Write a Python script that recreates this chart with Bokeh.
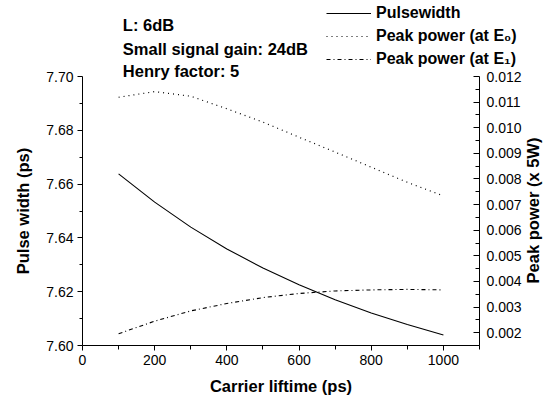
import math
from bokeh.plotting import figure
from bokeh.models import (Range1d, LinearAxis, FixedTicker, PrintfTickFormatter,
                          Legend, LegendItem, Label)
from bokeh.embed import file_html
from bokeh.resources import INLINE

# ---- data ----
carrier_lifetime = [100, 200, 300, 400, 500, 600, 700, 800, 900, 1000]
pulse_width = [7.6638, 7.6533, 7.6440, 7.6359, 7.6288, 7.6226, 7.6170, 7.6121, 7.6078, 7.6039]
peak_power_e0 = [0.01119, 0.01141, 0.01123, 0.01074, 0.01022, 0.00963, 0.00905, 0.00846, 0.00787, 0.00734]
peak_power_e1 = [0.00196, 0.00245, 0.00285, 0.00314, 0.00337, 0.00353, 0.00363, 0.00367, 0.00369, 0.00367]

x_ticks = [0, 200, 400, 600, 800, 1000]
x_minor = [100, 300, 500, 700, 900, 1100]
left_ticks = [7.60, 7.62, 7.64, 7.66, 7.68, 7.70]
left_minor = [7.61, 7.63, 7.65, 7.67, 7.69]
right_ticks = [0.002, 0.003, 0.004, 0.005, 0.006, 0.007, 0.008, 0.009, 0.010, 0.011, 0.012]
right_minor = [0.0015, 0.0025, 0.0035, 0.0045, 0.0055, 0.0065, 0.0075, 0.0085, 0.0095, 0.0105, 0.0115]

annotations = ["L: 6dB", "Small signal gain: 24dB", "Henry factor: 5"]
series_labels = ["Pulsewidth", "Peak power (at E\u2080)", "Peak power (at E\u2081)"]
right_axis_title = "Peak power (x 5W)"

FONT = "Liberation Sans"

# axis windows (data) and where they sit on the 552x400 canvas (pixels)
X_LO, X_HI = 0, 1100
LEFT_LO, LEFT_HI = 7.60, 7.70
RIGHT_LO, RIGHT_HI = 0.0015, 0.012
W, H = 552, 400
PX_L, PX_R, PX_T, PX_B = 82, 479, 76, 345

def extend(lo, hi, a, b, n, flip=False):
    # range covering the whole canvas when [lo,hi] spans pixels a..b of n
    per = (hi - lo) / (b - a)
    if flip:
        return lo - (n - b) * per, hi + a * per
    return lo - a * per, hi + (n - b) * per

xs, xe = extend(X_LO, X_HI, PX_L, PX_R, W)
ls, le = extend(LEFT_LO, LEFT_HI, PX_T, PX_B, H, flip=True)
rs, re_ = extend(RIGHT_LO, RIGHT_HI, PX_T, PX_B, H, flip=True)

p = figure(width=W, height=H, output_backend="svg", toolbar_location=None,
           x_range=Range1d(xs, xe), y_range=Range1d(ls, le),
           min_border=0, outline_line_color=None,
           background_fill_color="white", border_fill_color="white")
p.extra_y_ranges = {"power": Range1d(rs, re_)}
p.xgrid.visible = False
p.ygrid.visible = False

def style_axis(ax):
    ax.axis_line_color = "black"
    ax.major_tick_line_color = "black"
    ax.minor_tick_line_color = "black"
    ax.major_label_text_color = "black"
    ax.major_label_text_font = FONT
    ax.major_label_text_font_size = "14px"
    ax.axis_label_text_font = FONT
    ax.axis_label_text_font_size = "16.5px"
    ax.axis_label_text_font_style = "bold"
    ax.axis_label_text_color = "black"

xa = p.xaxis[0]
style_axis(xa)
xa.fixed_location = LEFT_LO
xa.bounds = (X_LO, X_HI)
xa.ticker = FixedTicker(ticks=x_ticks, minor_ticks=x_minor)
xa.axis_label = "Carrier liftime (ps)"
xa.major_tick_in = 0
xa.major_tick_out = 5
xa.minor_tick_in = 0
xa.minor_tick_out = 4
xa.major_label_standoff = 4
xa.axis_label_standoff = 9

ya = p.yaxis[0]
style_axis(ya)
ya.fixed_location = X_LO
ya.bounds = (LEFT_LO, LEFT_HI)
ya.ticker = FixedTicker(ticks=left_ticks, minor_ticks=left_minor)
ya.formatter = PrintfTickFormatter(format="%.2f")
ya.axis_label = "Pulse width (ps)"
ya.major_tick_in = 0
ya.major_tick_out = 5
ya.minor_tick_in = 0
ya.minor_tick_out = 3
ya.major_label_standoff = 4
ya.axis_label_standoff = 11

ra = LinearAxis(y_range_name="power")
style_axis(ra)
ra.fixed_location = X_HI
ra.bounds = (RIGHT_LO, RIGHT_HI)
ra.ticker = FixedTicker(ticks=right_ticks, minor_ticks=right_minor)
ra.formatter = PrintfTickFormatter(format="%.3f")
ra.major_tick_in = 6
ra.major_tick_out = 0
ra.minor_tick_in = 4
ra.minor_tick_out = 0
ra.major_label_standoff = 7
p.add_layout(ra, "right")

# right-axis title, reading bottom to top like the reference
p.add_layout(Label(x=1249.6, y=0.00677, y_range_name="power",
                   text=right_axis_title, angle=math.pi / 2, text_font=FONT,
                   text_font_size="16.5px", text_font_style="bold", text_color="black",
                   text_align="center", text_baseline="middle"))

r1 = p.line(carrier_lifetime, pulse_width, line_color="black", line_width=1.1)
r2 = p.line(carrier_lifetime, peak_power_e0, y_range_name="power",
            line_color="black", line_width=1.2, line_dash="1 4")
r3 = p.line(carrier_lifetime, peak_power_e1, y_range_name="power",
            line_color="black", line_width=1.1, line_dash="4 3 1 3")

legend = Legend(items=[LegendItem(label=series_labels[0], renderers=[r1]),
                       LegendItem(label=series_labels[1], renderers=[r2]),
                       LegendItem(label=series_labels[2], renderers=[r3])],
                location=(326, 331), orientation="vertical",
                glyph_width=45, glyph_height=20, label_height=20, spacing=3,
                label_standoff=5, padding=0, margin=0,
                background_fill_alpha=0, border_line_color=None,
                label_text_font=FONT, label_text_font_size="16px",
                label_text_font_style="bold", label_text_color="black")
p.add_layout(legend)

ann_y = [7.71933, 7.71030, 7.70186]
for txt, yy in zip(annotations, ann_y):
    p.add_layout(Label(x=111.7, y=yy, text=txt, text_font=FONT, text_font_size="16.5px",
                       text_font_style="bold", text_color="black", text_baseline="middle",
                       text_align="left"))

open("out.html", "w").write(file_html(p, INLINE))
